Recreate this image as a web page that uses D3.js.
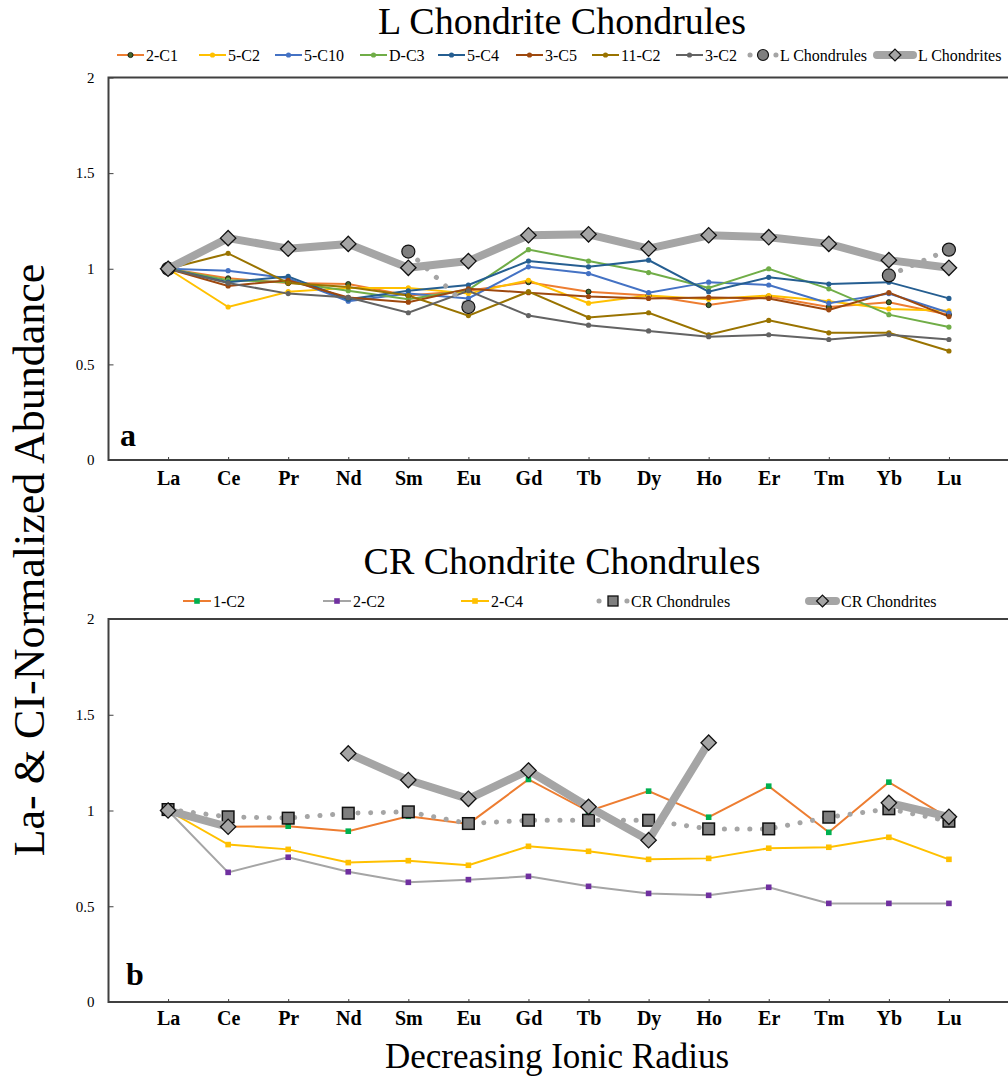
<!DOCTYPE html>
<html>
<head>
<meta charset="utf-8">
<script src="https://cdn.jsdelivr.net/npm/d3@7"></script>
<style>
  body { margin: 0; background: #fff; }
  svg { display: block; font-family: "Liberation Serif", "Times New Roman", serif; }
</style>
</head>
<body>
<div id="chart"></div>
<script>
// categories + axis ticks
const elements = ["La", "Ce", "Pr", "Nd", "Sm", "Eu", "Gd", "Tb", "Dy", "Ho", "Er", "Tm", "Yb", "Lu"];
const yTicks = [0, 0.5, 1, 1.5, 2];
const yTickLabels = ["0", "0.5", "1", "1.5", "2"];

// panel a - L chondrite chondrules
const lNames = ["2-C1", "5-C2", "5-C10", "D-C3", "5-C4", "3-C5", "11-C2", "3-C2"];
const l2C1  = [1.00, 0.95, 0.925, 0.92, 0.86, 0.885, 0.93, 0.88, 0.86, 0.81, 0.855, 0.80, 0.825, 0.76];
const l5C2  = [1.00, 0.80, 0.88, 0.90, 0.90, 0.87, 0.94, 0.82, 0.86, 0.84, 0.86, 0.83, 0.79, 0.78];
const l5C10 = [1.00, 0.99, 0.95, 0.83, 0.87, 0.845, 1.01, 0.975, 0.875, 0.93, 0.915, 0.82, 0.87, 0.77];
const lDC3  = [1.00, 0.94, 0.93, 0.885, 0.84, 0.89, 1.10, 1.04, 0.98, 0.90, 1.00, 0.895, 0.76, 0.695];
const l5C4  = [1.00, 0.93, 0.96, 0.84, 0.885, 0.915, 1.04, 1.01, 1.045, 0.88, 0.955, 0.92, 0.93, 0.845];
const l3C5  = [1.00, 0.91, 0.94, 0.85, 0.825, 0.895, 0.875, 0.855, 0.845, 0.85, 0.845, 0.785, 0.875, 0.75];
const l11C2 = [1.00, 1.08, 0.925, 0.905, 0.86, 0.755, 0.88, 0.745, 0.77, 0.655, 0.73, 0.665, 0.665, 0.57];
const l3C2  = [1.00, 0.925, 0.87, 0.85, 0.77, 0.885, 0.755, 0.705, 0.675, 0.645, 0.655, 0.63, 0.655, 0.63];
const lChondrules = [1.00, null, null, null, 1.09, 0.80, null, null, null, null, null, null, 0.965, 1.10];
const lChondrites = [1.00, 1.16, 1.105, 1.13, 1.005, 1.04, 1.175, 1.18, 1.105, 1.175, 1.165, 1.13, 1.045, 1.005];

// panel b - CR chondrite chondrules
const crNames = ["1-C2", "2-C2", "2-C4"];
const cr1C2 = [1.00, 0.915, 0.918, 0.892, 0.97, 0.93, 1.162, 0.996, 1.101, 0.965, 1.127, 0.886, 1.148, 0.96];
const cr2C2 = [1.00, 0.677, 0.756, 0.68, 0.625, 0.639, 0.656, 0.604, 0.567, 0.557, 0.599, 0.515, 0.515, 0.515];
const cr2C4 = [1.00, 0.822, 0.797, 0.728, 0.738, 0.714, 0.813, 0.787, 0.745, 0.75, 0.803, 0.808, 0.86, 0.745];
const crChondrules = [1.005, 0.967, 0.96, 0.986, 0.993, 0.932, 0.949, 0.949, 0.949, 0.904, 0.904, 0.965, 1.009, 0.944];
const crChondrites = [1.00, 0.915, null, 1.298, 1.159, 1.061, 1.209, 1.019, 0.845, 1.354, null, null, 1.04, 0.967];

// styles
const lLineColors   = ["#ED7D31", "#FFC000", "#4472C4", "#70AD47", "#255E91", "#9E480E", "#997300", "#636363"];
const lMarkColors   = ["#43682B", "#FFC000", "#4472C4", "#70AD47", "#255E91", "#9E480E", "#997300", "#636363"];
const crLineColors  = ["#ED7D31", "#A5A5A5", "#FFC000"];
const crMarkColors  = ["#00B050", "#7030A0", "#FFC000"];

var W = 1008, H = 1084;
var svg = d3.select("#chart").append("svg").attr("width", W).attr("height", H);

var x = d3.scalePoint().domain(elements).range([108, 1009]).padding(1);

var diamond = d3.symbol().type(d3.symbolDiamond2).size(150);

function drawPanel(top, bottom, opts) {
    var y = d3.scaleLinear().domain([0, 2]).range([bottom, top]);
    var g = svg.append("g");

    var line = d3.line()
        .defined(d => d != null)
        .x((d, i) => x(elements[i]))
        .y(d => y(d));

    // frame (right side runs off the page)
    g.append("path")
        .attr("d", "M1012," + top + "H108.5V" + bottom + "H1012")
        .attr("fill", "none")
        .attr("stroke", "#404040")
        .attr("stroke-width", 2);

    // y axis
    var yAxis = g.append("g")
        .attr("transform", "translate(108.5,0)")
        .call(d3.axisLeft(y).tickValues(yTicks)
            .tickFormat((d, i) => yTickLabels[i])
            .tickSize(-5).tickPadding(14));
    yAxis.attr("font-family", null);
    yAxis.select(".domain").remove();
    yAxis.selectAll("line").attr("stroke", "#404040");
    yAxis.selectAll("text").attr("font-size", 15).attr("fill", "#000");

    // x axis
    var xAxis = g.append("g")
        .attr("transform", "translate(0," + bottom + ")")
        .call(d3.axisBottom(x).tickSize(-3).tickPadding(opts.xPad));
    xAxis.attr("font-family", null);
    xAxis.select(".domain").remove();
    xAxis.selectAll("line").attr("stroke", "#404040");
    xAxis.selectAll("text").attr("font-size", 20).attr("font-weight", "bold").attr("fill", "#000");

    // thin sample series
    opts.series.forEach(function (vals, k) {
        g.append("path")
            .datum(vals)
            .attr("d", line)
            .attr("fill", "none")
            .attr("stroke", opts.lineColors[k])
            .attr("stroke-width", 2);
    });
    opts.series.forEach(function (vals, k) {
        var pts = g.selectAll(null).data(vals.map((v, i) => ({ v: v, i: i })).filter(d => d.v != null)).enter();
        if (opts.square) {
            pts.append("rect")
                .attr("x", d => x(elements[d.i]) - 2.8)
                .attr("y", d => y(d.v) - 2.8)
                .attr("width", 5.6).attr("height", 5.6)
                .attr("fill", opts.markColors[k]);
        } else {
            pts.append("circle")
                .attr("cx", d => x(elements[d.i]))
                .attr("cy", d => y(d.v))
                .attr("r", 2.6)
                .attr("fill", opts.markColors[k])
                .attr("stroke", k == 0 ? "#000" : "none")
                .attr("stroke-width", 0.7);
        }
    });

    // chondrules: dotted line + big markers
    g.append("path")
        .datum(opts.chondrules)
        .attr("d", line)
        .attr("fill", "none")
        .attr("stroke", "#A5A5A5")
        .attr("stroke-width", 5)
        .attr("stroke-linecap", "round")
        .attr("stroke-dasharray", "0.1 12.6");
    var cp = g.selectAll(null)
        .data(opts.chondrules.map((v, i) => ({ v: v, i: i })).filter(d => d.v != null))
        .enter();
    if (opts.square) {
        cp.append("rect")
            .attr("x", d => x(elements[d.i]) - 5.8)
            .attr("y", d => y(d.v) - 5.8)
            .attr("width", 11.6).attr("height", 11.6)
            .attr("fill", "#7F7F7F").attr("stroke", "#111").attr("stroke-width", 1.5);
    } else {
        cp.append("circle")
            .attr("cx", d => x(elements[d.i]))
            .attr("cy", d => y(d.v))
            .attr("r", 6.5)
            .attr("fill", "#7F7F7F").attr("stroke", "#111").attr("stroke-width", 1.2);
    }

    // chondrites: thick gray line + diamonds
    g.append("path")
        .datum(opts.chondrites)
        .attr("d", line)
        .attr("fill", "none")
        .attr("stroke", "#A5A5A5")
        .attr("stroke-width", 8)
        .attr("stroke-linejoin", "round");
    g.selectAll(null)
        .data(opts.chondrites.map((v, i) => ({ v: v, i: i })).filter(d => d.v != null))
        .enter()
        .append("path")
        .attr("d", diamond)
        .attr("transform", d => "translate(" + x(elements[d.i]) + "," + y(d.v) + ")")
        .attr("fill", "#A5A5A5").attr("stroke", "#111").attr("stroke-width", 1.3);

    // panel letter
    g.append("text")
        .attr("x", opts.letterX).attr("y", opts.letterY)
        .attr("font-size", 32).attr("font-weight", "bold")
        .text(opts.letter);

    // title
    svg.append("text")
        .attr("x", 562).attr("y", opts.titleY)
        .attr("text-anchor", "middle")
        .attr("font-size", 38)
        .text(opts.title);

    // legend
    var leg = svg.append("g").attr("transform", "translate(0," + opts.legendY + ")");
    opts.legendItems.forEach(function (it, k) {
        var x0 = opts.legendX[k];
        var li = leg.append("g").attr("transform", "translate(" + x0 + ",0)");
        if (it.kind == "line") {
            li.append("line").attr("x1", 0).attr("x2", it.w).attr("y1", 0).attr("y2", 0)
                .attr("stroke", it.line).attr("stroke-width", 2);
            if (opts.square) {
                li.append("rect").attr("x", it.w / 2 - 2.8).attr("y", -2.8).attr("width", 5.6).attr("height", 5.6)
                    .attr("fill", it.mark);
            } else {
                li.append("circle").attr("cx", it.w / 2).attr("cy", 0).attr("r", 2.6)
                    .attr("fill", it.mark).attr("stroke", k == 0 ? "#000" : "none").attr("stroke-width", 0.7);
            }
        } else if (it.kind == "dots") {
            li.append("line").attr("x1", 2).attr("x2", it.w - 2).attr("y1", 0).attr("y2", 0)
                .attr("stroke", "#A5A5A5").attr("stroke-width", 5).attr("stroke-linecap", "round")
                .attr("stroke-dasharray", "0.1 " + (it.w - 4.2));
            if (opts.square) {
                li.append("rect").attr("x", it.w / 2 - 5).attr("y", -5).attr("width", 10).attr("height", 10)
                    .attr("fill", "#7F7F7F").attr("stroke", "#111").attr("stroke-width", 1.3);
            } else {
                li.append("circle").attr("cx", it.w / 2).attr("cy", 0).attr("r", 5.5)
                    .attr("fill", "#7F7F7F").attr("stroke", "#111").attr("stroke-width", 1.2);
            }
        } else {
            li.append("line").attr("x1", 3).attr("x2", it.w - 3).attr("y1", 0).attr("y2", 0)
                .attr("stroke", "#A5A5A5").attr("stroke-width", 8).attr("stroke-linecap", "round");
            li.append("path").attr("d", d3.symbol().type(d3.symbolDiamond2).size(90))
                .attr("transform", "translate(" + it.w / 2 + ",0)")
                .attr("fill", "#A5A5A5").attr("stroke", "#111").attr("stroke-width", 1.2);
        }
        li.append("text").attr("x", it.w + 2).attr("y", 5.5)
            .attr("font-size", 16)
            .text(it.name);
    });
}

// legend entries for each panel
var legA = lNames.map((n, k) => ({ name: n, kind: "line", line: lLineColors[k], mark: lMarkColors[k], w: 27 }));
legA.push({ name: "L Chondrules", kind: "dots", w: 30 });
legA.push({ name: "L Chondrites", kind: "thick", w: 42 });

var legB = crNames.map((n, k) => ({ name: n, kind: "line", line: crLineColors[k], mark: crMarkColors[k], w: 28 }));
legB.push({ name: "CR Chondrules", kind: "dots", w: 32 });
legB.push({ name: "CR Chondrites", kind: "thick", w: 33 });

drawPanel(77.5, 460, {
    series: [l2C1, l5C2, l5C10, lDC3, l5C4, l3C5, l11C2, l3C2],
    lineColors: lLineColors, markColors: lMarkColors,
    chondrules: lChondrules, chondrites: lChondrites,
    square: false, xPad: 11,
    letter: "a", letterX: 120, letterY: 446,
    title: "L Chondrite Chondrules", titleY: 34,
    legendY: 55, legendX: [117, 199, 275, 360, 438, 516, 592, 676, 748, 874],
    legendItems: legA
});

drawPanel(619, 1002, {
    series: [cr1C2, cr2C2, cr2C4],
    lineColors: crLineColors, markColors: crMarkColors,
    chondrules: crChondrules, chondrites: crChondrites,
    square: true, xPad: 9,
    letter: "b", letterX: 126, letterY: 985,
    title: "CR Chondrite Chondrules", titleY: 574,
    legendY: 601, legendX: [183, 323, 461, 597, 806],
    legendItems: legB
});

// shared axis titles
svg.append("text")
    .attr("transform", "translate(44,560) rotate(-90)")
    .attr("text-anchor", "middle")
    .attr("font-size", 44)
    .text("La- & CI-Normalized Abundance");

svg.append("text")
    .attr("x", 557).attr("y", 1068)
    .attr("text-anchor", "middle")
    .attr("font-size", 35)
    .text("Decreasing Ionic Radius");
</script>
</body>
</html>
